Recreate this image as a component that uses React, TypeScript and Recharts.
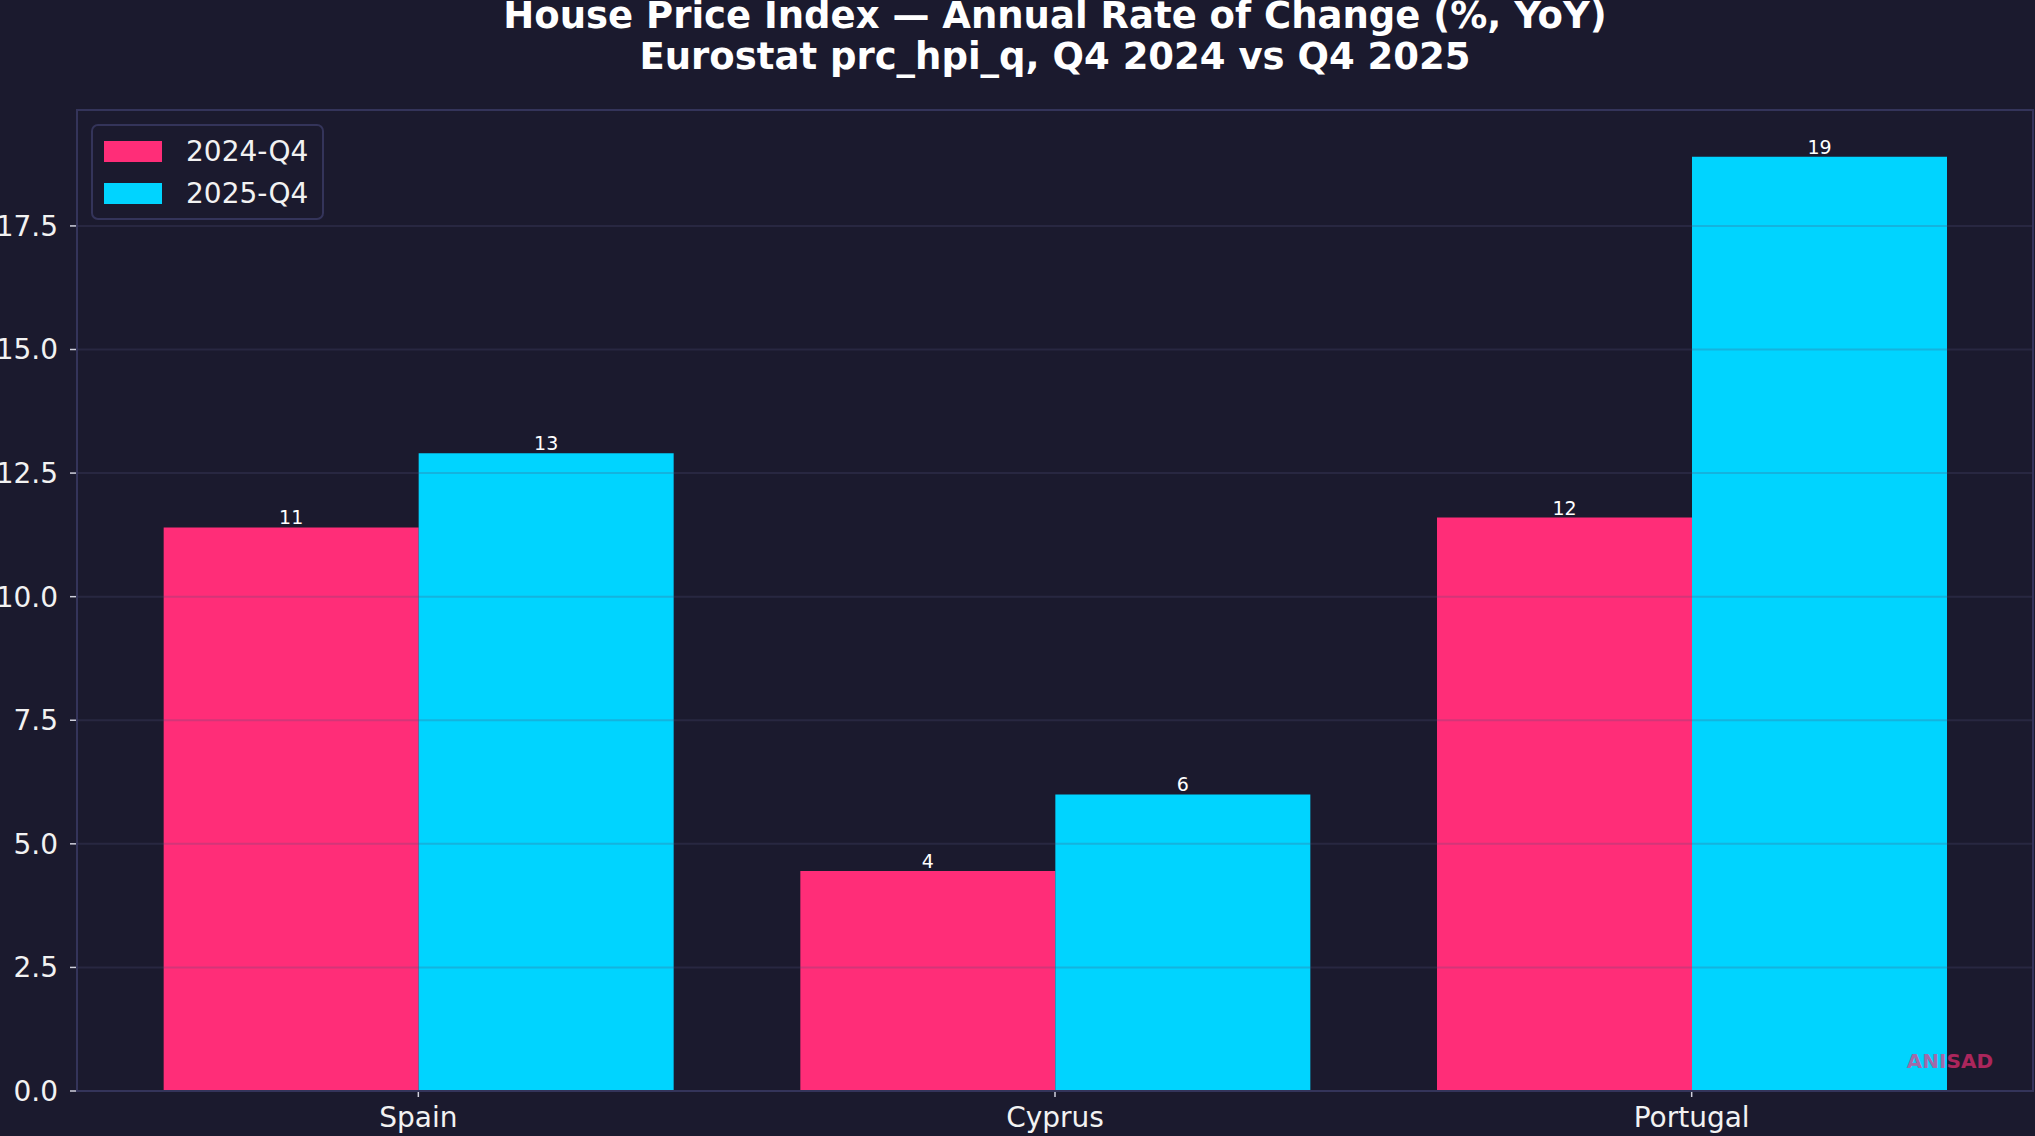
import { BarChart, Bar, XAxis, YAxis, ReferenceLine, LabelList } from "recharts";

const countries = ["Spain", "Cyprus", "Portugal"];
const q4_2024 = [11.4, 4.45, 11.6];
const q4_2025 = [12.9, 6.0, 18.9];
const yTicks = [0, 2.5, 5, 7.5, 10, 12.5, 15, 17.5];

const BG = "#1b1a2e";
const FRAME = "#34345a";
const PINK = "#ff2d78";
const CYAN = "#00d4ff";
const FONT = "'DejaVu Sans', sans-serif";

const series = [
  { key: "2024-Q4", color: PINK },
  { key: "2025-Q4", color: CYAN },
];

const data = countries.map((country, i) => ({
  country,
  "2024-Q4": q4_2024[i],
  "2025-Q4": q4_2025[i],
}));

function LegendBox() {
  return (
    <div style={{
      position: "absolute", left: 91, top: 124,
      border: `2px solid ${FRAME}`, borderRadius: 7, background: BG,
      padding: "4px 12px 4px 11px", width: 206, boxSizing: "content-box",
    }}>
      {series.map((s) => (
        <div key={s.key} style={{ display: "flex", alignItems: "center", height: 42 }}>
          <span style={{ width: 58, height: 21, background: s.color, display: "inline-block" }} />
          <span style={{ marginLeft: 24, fontSize: 28, color: "#f2f2f2", fontFamily: FONT }}>{s.key}</span>
        </div>
      ))}
    </div>
  );
}

export default function App() {
  return (
    <div style={{ position: "relative", width: 2035, height: 1136, background: BG, fontFamily: FONT, overflow: "hidden" }}>
      <style>{`body{margin:0;}`}</style>
      <div style={{ position: "absolute", left: 0, width: 2110, top: -5, textAlign: "center", color: "#ffffff",
                    fontWeight: 700, fontSize: 37, lineHeight: "41px" }}>
        <div>House Price Index — Annual Rate of Change (%, YoY)</div>
        <div>Eurostat prc_hpi_q, Q4 2024 vs Q4 2025</div>
      </div>

      <div style={{ position: "absolute", left: 0, top: 0 }}>
        <BarChart width={2035} height={1136} data={data}
          margin={{ top: 110, right: 1, left: 0, bottom: 0 }}
          barCategoryGap="10%" barGap={0}>
          <XAxis dataKey="country" height={45} padding={{ left: 24, right: 24 }}
            axisLine={false} tickSize={6} tickMargin={10}
            tickLine={{ stroke: "#cfcfdc", strokeWidth: 1.5 }}
            tick={{ fill: "#f2f2f2", fontSize: 28, fontFamily: FONT }} />
          <YAxis width={76} domain={[0, 19.845]} ticks={yTicks} allowDataOverflow
            tickFormatter={(v: number) => v.toFixed(1)}
            axisLine={false} tickSize={6} tickMargin={12}
            tickLine={{ stroke: "#cfcfdc", strokeWidth: 1.5 }}
            tick={{ fill: "#f2f2f2", fontSize: 28, fontFamily: FONT }} />
          {series.map((s) => (
            <Bar key={s.key} dataKey={s.key} fill={s.color} isAnimationActive={false}>
              <LabelList dataKey={s.key} position="top" offset={3}
                formatter={(v: any) => String(Math.round(Number(v)))}
                style={{ fill: "#ffffff", fontSize: 19, fontFamily: FONT }} />
            </Bar>
          ))}
          {yTicks.slice(1).map((t) => (
            <ReferenceLine key={t} y={t} stroke="#50507a" strokeOpacity={0.25} strokeWidth={2} />
          ))}
        </BarChart>
      </div>

      <div style={{ position: "absolute", left: 76, top: 109, width: 1958, height: 983,
                    border: `2px solid ${FRAME}`, boxSizing: "border-box", pointerEvents: "none" }} />

      <LegendBox />

      <div style={{ position: "absolute", right: 42, top: 1049, fontSize: 20, fontWeight: 700,
                    color: PINK, opacity: 0.63, fontFamily: FONT }}>ANISAD</div>
    </div>
  );
}
